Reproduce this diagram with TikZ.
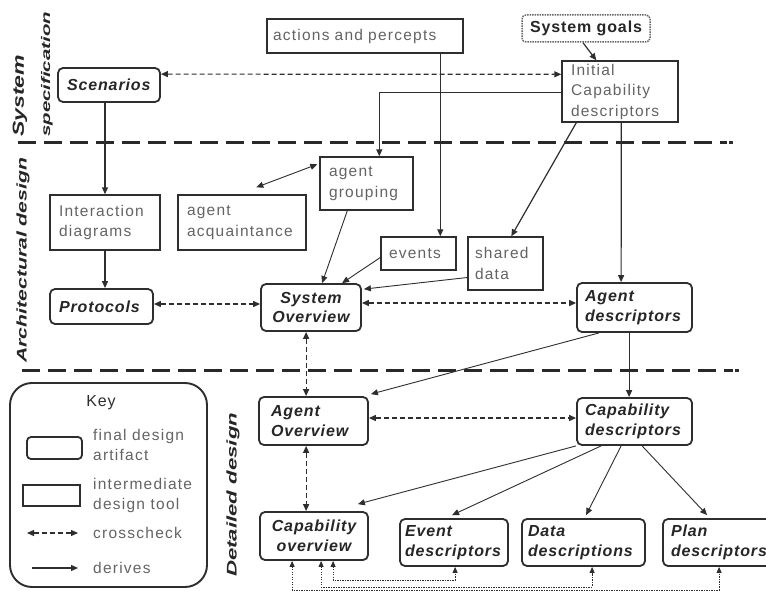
\documentclass[tikz,border=0pt]{standalone}
\usepackage{fontspec}
\usepackage{graphicx}
\setmainfont{Liberation Sans}
\newfontfamily\grayf[LetterSpace=8]{Liberation Sans}
\newfontfamily\finf[LetterSpace=5.5]{Liberation Sans}
\usetikzlibrary{arrows.meta,calc}
\definecolor{ln}{HTML}{2E2E2E}
\definecolor{gtxt}{HTML}{646464}
\definecolor{ftxt}{HTML}{262626}
\newcommand\bx[8][7]{%
  \pgfmathsetmacro\bxw{#6-#4}\pgfmathsetmacro\bxh{#7-#5}%
  \pgfmathsetmacro\bxt{#6-#4-2*#1}%
  \node[#3, inner xsep=#1pt, minimum width=\bxw pt, minimum height=\bxh pt, text width=\bxt pt]
    (#2) at ({(#4+#6)/2},{(#5+#7)/2}) {#8};}
\begin{document}
\begin{tikzpicture}[x=1pt,y=-1pt,
  final/.style={draw=ln, line width=1.8pt, rounded corners=5pt, inner ysep=0pt,
    font=\finf\bfseries\itshape\fontsize{16}{19.5}\selectfont, text=ftxt, align=left},
  inter/.style={draw=ln, line width=1.4pt, inner ysep=0pt,
    font=\grayf\fontsize{15.5}{20.5}\selectfont, text=gtxt, align=left},
  goalbox/.style={draw=gray!80!black, line width=1.5pt, dash pattern=on 1.5pt off 1pt, rounded corners=4pt,
    inner ysep=0pt, font=\finf\bfseries\fontsize{16}{19}\selectfont, text=ftxt, align=center},
  sidelab/.style={rotate=90, anchor=west, inner sep=0pt, text=ftxt,
    font=\bfseries\itshape\fontsize{14}{16}\selectfont},
  der/.style={draw=ln, line width=1.2pt, -{Triangle[length=7pt,width=6pt]}},
  derb/.style={draw=ln, line width=1.1pt, {Triangle[length=7pt,width=6pt]}-{Triangle[length=7pt,width=6pt]}},
  cross/.style={draw=ln, line width=1.2pt, dash pattern=on 5pt off 3pt,
    {Triangle[length=7pt,width=6pt]}-{Triangle[length=7pt,width=6pt]}},
  dotl/.style={draw=ln, line width=0.8pt, dash pattern=on 1.2pt off 1.3pt,
    {Triangle[length=6pt,width=5pt]}-{Triangle[length=6pt,width=5pt]}},
  divider/.style={draw=ln!90!black, line width=3pt, dash pattern=on 18pt off 8pt},
  keytxt/.style={anchor=west, inner sep=0pt, align=left, text=gtxt,
    font=\grayf\fontsize{15.5}{20}\selectfont}]
\fill[white] (0,0) rectangle (766,591);
\useasboundingbox (0,0) rectangle (766,591);

% side labels
\node[sidelab, font=\bfseries\itshape\fontsize{16}{18}\selectfont] (lsys) at (20,137) {\resizebox{82pt}{\height}{System}};
\node[sidelab, font=\bfseries\itshape\fontsize{12.5}{14}\selectfont] (lspec) at (47,137) {\resizebox{125pt}{\height}{specification}};
\node[sidelab] (larch) at (23,363) {\resizebox{205pt}{\height}{Architectural design}};
\node[sidelab] (ldet) at (233,577) {\resizebox{164pt}{\height}{Detailed design}};

% dividers
\draw[divider] (18,143) -- (727,143);
\fill[ln] (729,141.5) rectangle (732.5,144.5);
\draw[divider] (22,370) -- (733,370);
\fill[ln] (735,368.5) rectangle (738.5,371.5);

% boxes
\bx[6]{acts}{inter}{267}{19}{463}{53}{actions and percepts}
\bx[4]{goals}{goalbox}{522}{15}{650}{42}{System goals}
\bx[9]{initcap}{inter}{562}{61}{678}{122}{Initial\\Capability\\descriptors}
\bx[9]{scen}{final}{58}{68}{160}{102}{Scenarios}
\bx[9]{inter}{inter}{50}{195}{160}{250}{Interaction\\diagrams}
\bx[9]{acq}{inter}{178}{195}{306}{250}{agent\\acquaintance}
\bx[9]{group}{inter}{320}{157}{413}{210}{agent\\grouping}
\bx[8]{events}{inter}{381}{237}{456}{270}{events}
\bx[7]{shared}{inter}{468}{237}{543}{290}{shared\\data}
\bx[9]{proto}{final}{50}{289}{153}{324}{Protocols}
\bx[5]{sysov}{final,align=center}{261}{284}{361}{331}{System\\Overview}
\bx[8]{agdesc}{final}{577}{283}{692}{332}{Agent\\descriptors}
\bx[12]{agov}{final}{259}{397}{368}{445}{Agent\\Overview}
\bx[8]{capdesc}{final}{577}{398}{692}{445}{Capability\\descriptors}
\bx[5]{capov}{final,align=center}{260}{512}{368}{560}{Capability\\overview}
\bx[5]{evdesc}{final}{400}{519}{508}{566}{Event\\descriptors}
\bx[6]{datadesc}{final}{522}{519}{645}{566}{Data\\descriptions}
\bx[8]{plandesc}{final}{663}{519}{774}{566}{Plan\\descriptors}

% key
\node[draw=ln, line width=1.9pt, rounded corners=22pt, minimum width=197pt, minimum height=204pt, inner sep=0pt] (key) at (108.5,485) {};
\node[inner sep=0pt, text=ln, font=\finf\fontsize{16}{18}\selectfont] (keyt) at (101,403) {Key};
\node[draw=ln, line width=1.8pt, rounded corners=4pt, minimum width=55pt, minimum height=22pt, inner sep=0pt] (ks1) at (54.5,448) {};
\node[draw=ln, line width=1.4pt, minimum width=57pt, minimum height=21pt, inner sep=0pt] (ks2) at (51.5,495.5) {};
\coordinate (kc1) at (27,533); \coordinate (kc2) at (78,533);
\coordinate (kd1) at (32,568); \coordinate (kd2) at (78,568);
\draw[cross] (kc1) -- (kc2);
\draw[der] (kd1) -- (kd2);
\node[keytxt] (kt1) at (93,445) {final design\\artifact};
\node[keytxt] (kt2) at (93,495) {intermediate\\design tool};
\node[keytxt] (kt3) at (93,533) {crosscheck};
\node[keytxt] (kt4) at (93,568) {derives};

% connectors: system specification
\draw[cross] ($(scen.north east)+(0,7)$) -- ($(initcap.north west)+(0,14)$);
\draw[der] ($(initcap.north west)+(0,32)$) -| ($(group.north west)+(60,0)$);
\draw[der] ($(acts.south west)+(174,0)$) -- ($(events.north west)+(60,0)$);
\draw[der] ($(goals.south)+(-3,0)$) -- ($(initcap.north west)+(35,0)$);
\draw[der] ($(initcap.south west)+(15,0)$) -- ($(shared.north west)+(44,0)$);
\draw[der] ($(initcap.south west)+(60,0)$) -- ($(agdesc.north west)+(45,0)$);
\draw[der] (inter.north |- scen.south) -- (inter.north);
\draw[der] (inter.south) -- (inter.south |- proto.north);

% architectural design
\draw[derb, line width=0.9pt] ($(acq.north west)+(79,-7)$) -- ($(group.north west)+(-2,8)$);
\draw[der, line width=0.9pt] ($(group.south west)+(28,0)$) -- ($(sysov.north west)+(62,0)$);
\draw[der, line width=0.9pt] ($(events.west)+(0,4)$) -- ($(sysov.north west)+(82,0)$);
\draw[der, line width=0.9pt] ($(shared.west)+(0,14)$) -- ($(sysov.north east)+(2,6)$);
\draw[cross] ($(proto.east)+(0,-2.5)$) -- ($(sysov.west)+(0,-3.5)$);
\draw[cross] ($(sysov.east)+(0,-4.5)$) -- ($(agdesc.west)+(0,-4.5)$);
\draw[cross] ($(sysov.south west)+(46,0)$) -- ($(agov.north west)+(48,0)$);

% detailed design
\draw[der, line width=0.9pt] ($(agdesc.south west)+(23,0)$) -- ($(agov.north east)+(2,-2)$);
\draw[cross] ($(agov.east)+(0,-3)$) -- ($(capdesc.west)+(0,-3.5)$);
\draw[der] ($(agdesc.south west)+(53,0)$) -- ($(capdesc.north west)+(53,0)$);
\draw[cross] ($(agov.south west)+(48,0)$) -- ($(capov.north west)+(47,0)$);
\draw[der, line width=0.9pt] ($(capdesc.south west)+(0,0)$) -- ($(capov.north east)+(-11,-7)$);
\draw[der, line width=0.9pt] ($(capdesc.south west)+(25,0)$) -- ($(evdesc.north west)+(53,-3)$);
\draw[der, line width=0.9pt] ($(capdesc.south west)+(45,0)$) -- ($(datadesc.north west)+(65,-3)$);
\draw[der, line width=0.9pt] ($(capdesc.south west)+(66,0)$) -- ($(plandesc.north west)+(45,-3)$);

% bottom cross references
\draw[dotl] ($(capov.south west)+(74,0)$) -- ++(0,19) -| ($(evdesc.south west)+(56,0)$);
\draw[dotl] ($(capov.south west)+(62,0)$) -- ++(0,26) -| ($(datadesc.south west)+(71,0)$);
\draw[dotl] ($(capov.south west)+(33,0)$) -- ++(0,29) -| ($(plandesc.south west)+(57,0)$);
\end{tikzpicture}
\end{document}
